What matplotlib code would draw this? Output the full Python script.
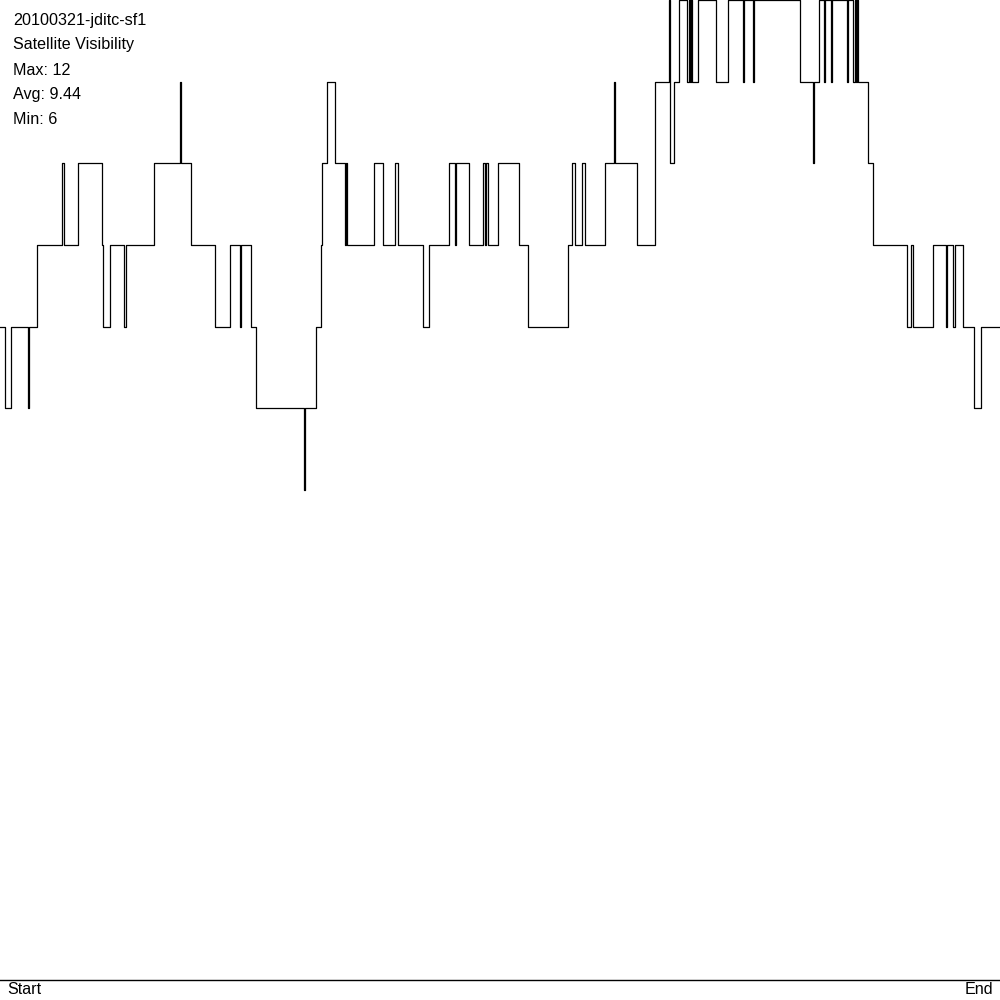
import matplotlib
matplotlib.use("Agg")
import matplotlib.pyplot as plt

# Step change points (time position along the track, 0..1000) and visible satellite count from that point
times = [0, 5, 11, 28, 29, 37, 62, 64, 78, 102, 103, 110, 124, 126, 154, 180, 181, 191,
         215, 230, 240, 241, 251, 256, 304, 305, 316, 320.7, 321.7, 327, 335, 345, 346, 347,
         374, 383, 395, 398, 423, 429, 449, 455, 456, 469, 483, 484.5, 485.5, 488, 498,
         519, 528, 568, 572, 575, 582, 585, 605, 614, 615, 637, 655, 669, 669.6, 674, 679,
         687, 689, 690, 691, 692, 698, 716, 728, 743, 743.6, 753, 754, 800, 813, 814, 819,
         824, 825, 831, 832, 847, 847.6, 853, 855, 856, 857, 858, 868, 873, 907, 911, 913,
         933, 946, 947, 953, 955, 963, 974, 981, 1000]
levels = [8, 7, 8, 7, 8, 9, 10, 9, 10, 9, 8, 9, 8, 9, 10, 11, 10, 9,
          8, 9, 8, 9, 8, 7, 6, 7, 8, 9, 10, 11, 10, 9, 10, 9,
          10, 9, 10, 9, 8, 9, 10, 9, 10, 9, 10, 9, 10, 9, 10,
          9, 8, 9, 10, 9, 10, 9, 10, 11, 10, 9, 11, 12, 10, 11, 12,
          11, 12, 11, 12, 11, 12, 11, 12, 11, 12, 11, 12, 11, 10, 11, 12,
          11, 12, 11, 12, 11, 12, 11, 12, 11, 12, 11, 10, 9, 8, 9, 8,
          9, 8, 9, 8, 9, 8, 7, 8, 8]

info_lines = ["20100321-jditc-sf1", "Satellite Visibility", "Max: 12", "Avg: 9.44", "Min: 6"]
x_labels = ["Start", "End"]

plt.rcParams['font.family'] = ['Liberation Sans', 'DejaVu Sans']

fig = plt.figure(figsize=(10, 10), dpi=100)
ax = fig.add_axes([0, 0.02, 1, 0.98])
ax.step(times, levels, where='post', color='black', lw=0.9, clip_on=False)
ax.set_xlim(0, 1000)
ax.set_ylim(0, 12)
for s in ['top', 'left', 'right']:
    ax.spines[s].set_visible(False)
ax.spines['bottom'].set_linewidth(1.0)
ax.set_xticks([])
ax.set_yticks([])

for i, t in enumerate(info_lines):
    fig.text(0.013, 1 - (0.020 + 0.025 * i), t, fontsize=11.6, ha='left', va='center')

fig.text(0.007, 0.010, x_labels[0], fontsize=11.6, ha='left', va='center')
fig.text(0.993, 0.010, x_labels[1], fontsize=11.6, ha='right', va='center')

fig.savefig("out.png", dpi=100, facecolor='white')
